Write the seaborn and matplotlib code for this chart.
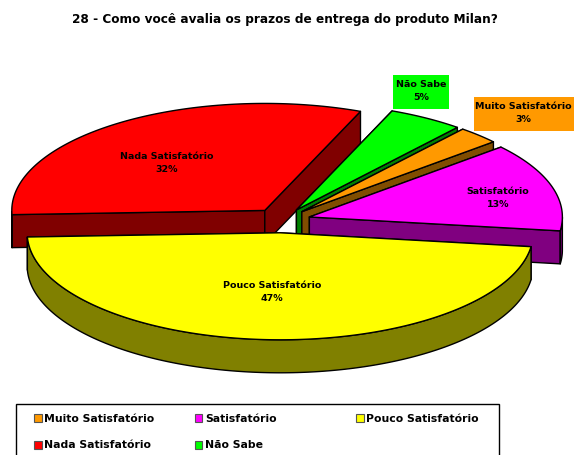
import numpy as np
import matplotlib
matplotlib.use('Agg')
import matplotlib.pyplot as plt
from matplotlib.patches import Polygon, Rectangle
import seaborn as sns

categories = ['Muito Satisfatório', 'Satisfatório', 'Pouco Satisfatório', 'Nada Satisfatório', 'Não Sabe']
values = [2.7, 13.4, 47.3, 31.8, 4.8]
top_colors = ['#ff9900', '#ff00ff', '#ffff00', '#ff0000', '#00ff00']
side_colors = ['#804d00', '#800080', '#808000', '#800000', '#008000']
title = '28 - Como você avalia os prazos de entrega do produto Milan?'

# pie geometry, in pixels of the picture
cx, cy = 281.5, 220.5
rx, ry = 253, 107
depth = 33
explode = 0.115
start = 50.5

# where the label of each slice goes
label_pos = [(523, 113), (498, 198), (272, 292), (167, 163), (421, 91)]
label_box = [(474, 97, 100, 34), None, None, None, (393, 75, 56, 34)]
# legend rows and columns
legend_x = [34, 194.5, 356]
legend_y = [414, 441]
legend_cell = [(0, 0), (1, 0), (2, 0), (0, 1), (1, 1)]

sns.set_theme(style='white')
plt.rcParams['font.family'] = ['DejaVu Sans']

fig = plt.figure(figsize=(5.74, 4.55), dpi=100)
ax = fig.add_axes([0, 0, 1, 1])
ax.set_xlim(0, 574)
ax.set_ylim(455, 0)
ax.axis('off')


def rim(t, ox, oy, drop=0):
    return np.column_stack([ox + rx * np.cos(t), oy - ry * np.sin(t) + drop])


# clockwise from the start angle
ends = start - np.cumsum(values) * 3.6
begins = ends + np.array(values) * 3.6

# back slices first, the yellow one has to stay on top
for i in [3, 4, 0, 1, 2]:
    t0, t1 = np.radians(begins[i]), np.radians(ends[i])
    mid = (t0 + t1) / 2
    ox = cx + explode * rx * np.cos(mid)
    oy = cy - explode * ry * np.sin(mid)
    apex = np.array([[ox, oy]])
    kw = dict(edgecolor='black', linewidth=1.0, joinstyle='round')

    # the two cut walls
    for t in [t0, t1]:
        a = rim(np.array([t]), ox, oy)
        wall = np.vstack([apex, a, a + [0, depth], apex + [0, depth]])
        ax.add_patch(Polygon(wall, facecolor=side_colors[i], **kw))

    # outer wall, only the part that faces us
    ts = np.linspace(t0, t1, 200)
    front = ts[np.sin(ts) < 0]
    if len(front) > 1:
        wall = np.vstack([rim(front, ox, oy), rim(front[::-1], ox, oy, depth)])
        ax.add_patch(Polygon(wall, facecolor=side_colors[i], **kw))

    ax.add_patch(Polygon(np.vstack([apex, rim(ts, ox, oy)]), facecolor=top_colors[i], **kw))

for i, name in enumerate(categories):
    if label_box[i] is not None:
        x, y, w, h = label_box[i]
        ax.add_patch(Rectangle((x, y), w, h, facecolor=top_colors[i], edgecolor='none'))
    ax.text(label_pos[i][0], label_pos[i][1], '%s\n%d%%' % (name, round(values[i])),
            ha='center', va='center', fontsize=6.8, fontweight='bold', color='black',
            linespacing=1.7)

ax.text(285, 19, title, ha='center', va='center', fontsize=8.7, fontweight='bold', color='black')

# legend box runs off the bottom of the picture
ax.add_patch(Rectangle((15.5, 403.5), 483, 60, facecolor='white', edgecolor='black', linewidth=1))
for i, name in enumerate(categories):
    col, row = legend_cell[i]
    ax.add_patch(Rectangle((legend_x[col], legend_y[row]), 7.5, 7.5, facecolor=top_colors[i],
                           edgecolor='#555555', linewidth=0.8))
    ax.text(legend_x[col] + 10.5, legend_y[row] + 4.5, name, ha='left', va='center',
            fontsize=7.8, fontweight='bold', color='black')

fig.savefig('out.png', dpi=100)
